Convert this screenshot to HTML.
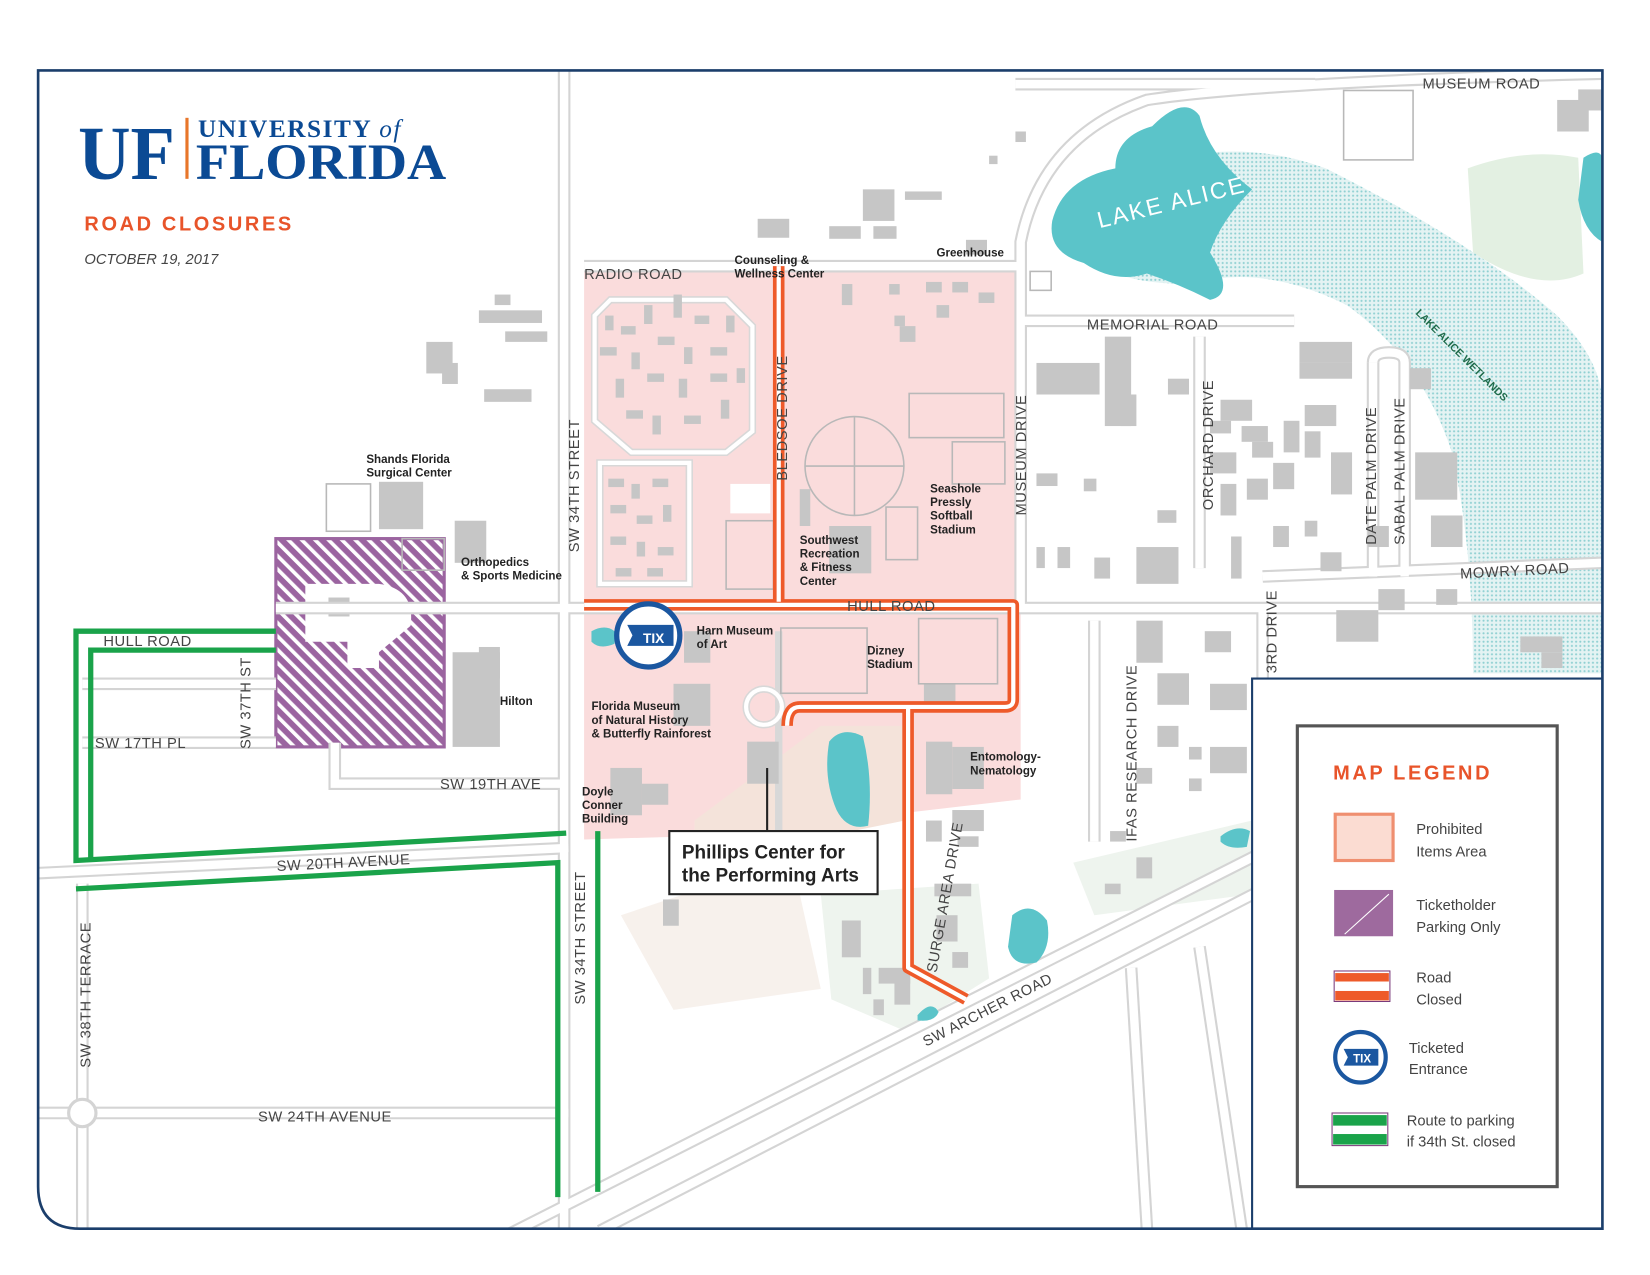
<!DOCTYPE html>
<html><head><meta charset="utf-8"><style>
html,body{margin:0;padding:0;background:#fff;}
svg{display:block;}
.lbl{font-size:14px;fill:#444;letter-spacing:0.5px;font-family:"Liberation Sans",sans-serif;}
.bl{font-size:11px;font-weight:bold;fill:#222;font-family:"Liberation Sans",sans-serif;}
.s{font-family:"Liberation Sans",sans-serif;}
.sf{font-family:"Liberation Serif",serif;}
</style></head><body>
<svg width="1650" height="1275" viewBox="0 0 1568 1212" xmlns="http://www.w3.org/2000/svg">
<defs>
<pattern id="hatch" width="9" height="9" patternUnits="userSpaceOnUse" patternTransform="rotate(-45)">
<rect width="9" height="9" fill="#9b64a0"/><rect width="3.5" height="9" fill="#fff"/>
</pattern>
<pattern id="dots" width="4" height="4" patternUnits="userSpaceOnUse">
<rect width="4" height="4" fill="#e4f3f3"/><circle cx="2" cy="2" r="1" fill="#8fd0d2"/>
</pattern>
<clipPath id="fr"><path d="M36 67 H1523 V1168 H76 Q36 1168 36 1128 Z"/></clipPath>
</defs>
<rect width="1568" height="1212" fill="#fff"/>
<g clip-path="url(#fr)">
<path d="M1395 160 Q1450 140 1500 150 L1505 260 Q1460 280 1400 240 Z" fill="#e3f0e2"/>
<path d="M1020 820 L1190 780 L1190 850 L1040 870 Z" fill="#eef4ee"/>
<path d="M590 870 L680 840 L760 850 L780 940 L640 960 Z" fill="#f7f1ec"/>
<path d="M780 850 L930 840 L940 930 L860 980 L790 950 Z" fill="#eef4ee"/>
<path d="M1400 560 L1523 560 L1523 640 L1400 640 Z" fill="#eef4ee"/>
<path d="M1040 180 Q1150 120 1260 160 Q1400 230 1480 300 Q1520 340 1523 380 L1523 640 L1400 640 Q1400 520 1380 430 Q1350 340 1280 290 Q1200 250 1130 270 Q1070 270 1040 250 Z" fill="url(#dots)"/>
<path d="M555 253 H970 V760 L840 775 L750 790 L655 795 L555 798 Z" fill="#fadcdc"/>
<path d="M660 780 L780 690 L860 690 L860 780 L760 800 L660 800 Z" fill="#f4e3da"/>
<rect x="262" y="512" width="160" height="198" fill="url(#hatch)" stroke="#9b64a0" stroke-width="3"/>
<path d="M290 555 H360 Q395 560 390 595 L360 620 V635 H330 V610 H290 Z" fill="#fff"/>
<rect x="312" y="568" width="20" height="18" fill="#c6c6c6"/>
<g fill="none" stroke-linecap="butt">
<g stroke="#d4d4d4" stroke-width="12">
<path d="M536 67 V1168"/><path d="M262 578 H1523"/><path d="M36 830 L540 806"/><path d="M36 1058 H540"/>
<path d="M78 840 V1168"/><path d="M470 1180 L1200 810"/><path d="M570 1170 L1230 830"/><path d="M555 253 H970"/>
<path d="M970 580 V230 Q990 130 1090 95 Q1200 78 1523 70"/><path d="M970 305 H1230"/><path d="M1200 548 L1523 535"/>
<path d="M78 650 H262"/><path d="M78 706 H262"/><path d="M318 706 V745 H536"/><path d="M1040 590 V800"/>
<path d="M1200 580 V830"/><path d="M1140 320 V540"/><path d="M1075 920 L1090 1168"/><path d="M1140 900 L1180 1168"/>
<path d="M965 80 H1250"/><path d="M1305 345 Q1305 335 1320 335 Q1335 335 1335 345 V548"/><path d="M1305 345 V548"/>
</g>
<g stroke="#fff" stroke-width="8">
<path d="M536 67 V1168"/><path d="M262 578 H1523"/><path d="M36 830 L540 806"/><path d="M36 1058 H540"/>
<path d="M78 840 V1168"/><path d="M470 1180 L1200 810"/><path d="M570 1170 L1230 830"/><path d="M555 253 H970"/>
<path d="M970 580 V230 Q990 130 1090 95 Q1200 78 1523 70"/><path d="M970 305 H1230"/><path d="M1200 548 L1523 535"/>
<path d="M78 650 H262"/><path d="M78 706 H262"/><path d="M318 706 V745 H536"/><path d="M1040 590 V800"/>
<path d="M1200 580 V830"/><path d="M1140 320 V540"/><path d="M1075 920 L1090 1168"/><path d="M1140 900 L1180 1168"/>
<path d="M965 80 H1250"/><path d="M1305 345 Q1305 335 1320 335 Q1335 335 1335 345 V548"/><path d="M1305 345 V548"/>
</g>
<g stroke="#d8d8d8" stroke-width="7">
<path d="M580 285 H690 L715 310 V410 L690 430 H600 L565 400 V300 Z"/>
<path d="M570 440 H655 V555 H570 Z"/>
<circle cx="726" cy="672" r="17"/>
<path d="M740 600 V790"/>
</g>
<g stroke="#fff" stroke-width="4">
<path d="M580 285 H690 L715 310 V410 L690 430 H600 L565 400 V300 Z"/>
<path d="M570 440 H655 V555 H570 Z"/>
<circle cx="726" cy="672" r="17"/>
</g>
<circle cx="78" cy="1058" r="13" stroke="#d4d4d4" stroke-width="3" fill="#fff"/>
</g>
<path d="M1000 210 Q1010 170 1060 160 Q1060 130 1095 120 Q1125 90 1140 110 Q1150 150 1190 180 Q1160 210 1150 240 Q1175 280 1150 285 Q1120 270 1090 260 Q1060 270 1030 250 Q995 240 1000 210 Z" fill="#5bc4c9"/>
<path d="M1505 150 Q1520 140 1523 150 L1523 230 Q1505 220 1500 190 Z" fill="#5bc4c9"/>
<path d="M788 705 Q800 690 820 700 Q830 740 825 785 Q805 790 795 770 Q782 740 788 705 Z" fill="#5bc4c9"/>
<path d="M962 870 Q980 855 995 875 Q1000 900 985 915 Q962 920 958 900 Z" fill="#5bc4c9"/>
<path d="M872 965 Q885 950 892 962 Q888 972 872 970 Z" fill="#5bc4c9"/>
<path d="M562 600 Q575 593 584 600 L584 612 Q570 618 562 610 Z" fill="#5bc4c9"/>
<path d="M1160 795 Q1175 783 1188 790 L1185 805 Q1168 808 1160 800 Z" fill="#5bc4c9"/>
<text class="s" x="1045" y="217" font-size="22" fill="#fff" letter-spacing="2" transform="rotate(-14 1045 217)">LAKE ALICE</text>
<text class="s" x="1345" y="298" font-size="10" font-weight="bold" fill="#1f6b4a" transform="rotate(45 1345 298)">LAKE ALICE WETLANDS</text>
<g fill="#c6c6c6">
<rect x="360" y="458" width="42" height="45"/><rect x="432" y="495" width="30" height="40"/>
<rect x="430" y="620" width="45" height="90"/><rect x="455" y="615" width="20" height="30"/>
<rect x="405" y="325" width="25" height="30"/><rect x="460" y="370" width="45" height="12"/>
<rect x="455" y="295" width="60" height="12"/><rect x="480" y="315" width="40" height="10"/>
<rect x="420" y="345" width="15" height="20"/><rect x="470" y="280" width="15" height="10"/>
<rect x="580" y="730" width="30" height="45"/><rect x="610" y="745" width="25" height="20"/>
<rect x="640" y="650" width="35" height="40"/><rect x="650" y="600" width="25" height="30"/>
<rect x="710" y="705" width="30" height="40"/><rect x="788" y="500" width="40" height="45"/>
<rect x="760" y="465" width="10" height="35"/><rect x="880" y="705" width="25" height="50"/>
<rect x="905" y="710" width="30" height="40"/><rect x="878" y="650" width="30" height="20"/>
<rect x="820" y="180" width="30" height="30"/><rect x="860" y="182" width="35" height="8"/>
<rect x="720" y="208" width="30" height="18"/><rect x="788" y="215" width="30" height="12"/>
<rect x="830" y="215" width="22" height="12"/><rect x="918" y="228" width="20" height="14"/>
<rect x="965" y="125" width="10" height="10"/><rect x="940" y="148" width="8" height="8"/>
<rect x="985" y="345" width="60" height="30"/><rect x="1050" y="320" width="25" height="85"/>
<rect x="985" y="450" width="20" height="12"/><rect x="1030" y="455" width="12" height="12"/>
<rect x="1100" y="485" width="18" height="12"/><rect x="1080" y="520" width="40" height="35"/>
<rect x="1040" y="530" width="15" height="20"/><rect x="985" y="520" width="8" height="20"/>
<rect x="1005" y="520" width="12" height="20"/><rect x="1065" y="375" width="15" height="30"/>
<rect x="1110" y="360" width="20" height="15"/><rect x="1160" y="380" width="30" height="20"/>
<rect x="1150" y="400" width="20" height="12"/><rect x="1180" y="405" width="25" height="15"/>
<rect x="1190" y="420" width="20" height="15"/><rect x="1150" y="430" width="25" height="20"/>
<rect x="1160" y="460" width="15" height="30"/><rect x="1185" y="455" width="20" height="20"/>
<rect x="1210" y="440" width="20" height="25"/><rect x="1220" y="400" width="15" height="30"/>
<rect x="1235" y="325" width="50" height="20"/><rect x="1235" y="345" width="50" height="15"/>
<rect x="1240" y="385" width="30" height="20"/><rect x="1240" y="410" width="15" height="25"/>
<rect x="1265" y="430" width="20" height="40"/><rect x="1240" y="495" width="12" height="15"/>
<rect x="1170" y="510" width="10" height="40"/><rect x="1210" y="500" width="15" height="20"/>
<rect x="1255" y="525" width="20" height="18"/><rect x="1300" y="500" width="20" height="20"/>
<rect x="1340" y="350" width="20" height="20"/><rect x="1345" y="430" width="40" height="45"/>
<rect x="1360" y="490" width="30" height="30"/><rect x="1270" y="580" width="40" height="30"/>
<rect x="1310" y="560" width="25" height="20"/><rect x="1365" y="560" width="20" height="15"/>
<rect x="1480" y="95" width="30" height="30"/><rect x="1500" y="85" width="23" height="20"/>
<rect x="1080" y="590" width="25" height="40"/><rect x="1100" y="640" width="30" height="30"/>
<rect x="1145" y="600" width="25" height="20"/><rect x="1150" y="650" width="35" height="25"/>
<rect x="1100" y="690" width="20" height="20"/><rect x="1150" y="710" width="35" height="25"/>
<rect x="1080" y="730" width="15" height="15"/><rect x="1130" y="710" width="12" height="12"/>
<rect x="1130" y="740" width="12" height="12"/><rect x="1080" y="815" width="15" height="20"/>
<rect x="1050" y="840" width="15" height="10"/><rect x="1055" y="790" width="15" height="10"/>
<rect x="905" y="770" width="30" height="20"/><rect x="910" y="795" width="20" height="10"/>
<rect x="880" y="780" width="15" height="20"/><rect x="888" y="840" width="35" height="12"/>
<rect x="800" y="875" width="18" height="35"/><rect x="890" y="870" width="20" height="25"/>
<rect x="835" y="920" width="30" height="15"/><rect x="850" y="930" width="15" height="25"/>
<rect x="820" y="920" width="8" height="25"/><rect x="905" y="905" width="15" height="15"/>
<rect x="830" y="950" width="10" height="15"/><rect x="630" y="855" width="15" height="25"/>
<rect x="1445" y="605" width="40" height="15"/><rect x="1465" y="620" width="20" height="15"/>
<rect x="575" y="300" width="8" height="14"/><rect x="590" y="310" width="14" height="8"/><rect x="612" y="290" width="8" height="18"/>
<rect x="640" y="280" width="8" height="22"/><rect x="660" y="300" width="14" height="8"/><rect x="690" y="300" width="8" height="16"/>
<rect x="570" y="330" width="16" height="8"/><rect x="600" y="335" width="8" height="16"/><rect x="625" y="320" width="16" height="8"/>
<rect x="650" y="330" width="8" height="16"/><rect x="675" y="330" width="16" height="8"/><rect x="585" y="360" width="8" height="18"/>
<rect x="615" y="355" width="16" height="8"/><rect x="645" y="360" width="8" height="18"/><rect x="675" y="355" width="16" height="8"/>
<rect x="595" y="390" width="16" height="8"/><rect x="620" y="395" width="8" height="18"/><rect x="650" y="395" width="16" height="8"/>
<rect x="685" y="380" width="8" height="18"/><rect x="700" y="350" width="8" height="14"/>
<rect x="578" y="455" width="15" height="8"/><rect x="600" y="460" width="8" height="14"/><rect x="620" y="455" width="15" height="8"/>
<rect x="580" y="480" width="15" height="8"/><rect x="605" y="490" width="15" height="8"/><rect x="630" y="480" width="8" height="16"/>
<rect x="580" y="510" width="15" height="8"/><rect x="605" y="515" width="8" height="14"/><rect x="625" y="520" width="15" height="8"/>
<rect x="585" y="540" width="15" height="8"/><rect x="615" y="540" width="15" height="8"/>
<rect x="845" y="270" width="10" height="10"/><rect x="880" y="268" width="15" height="10"/><rect x="905" y="268" width="15" height="10"/>
<rect x="930" y="278" width="15" height="10"/><rect x="850" y="300" width="10" height="10"/><rect x="800" y="270" width="10" height="20"/>
<rect x="855" y="310" width="15" height="15"/><rect x="890" y="290" width="12" height="12"/>
</g>
<g fill="none" stroke="#b8b8b8" stroke-width="1.5">
<circle cx="812" cy="443" r="47"/><path d="M812 396 V490 M765 443 H859"/>
<rect x="864" y="374" width="90" height="42"/><rect x="905" y="420" width="50" height="40"/>
<rect x="690" y="495" width="45" height="65"/><rect x="842" y="482" width="30" height="50"/>
<rect x="873" y="588" width="75" height="62"/><rect x="1277" y="86" width="66" height="66"/>
<rect x="310" y="460" width="42" height="45"/><rect x="382" y="512" width="40" height="30"/>
<rect x="742" y="597" width="82" height="62"/><rect x="979" y="258" width="20" height="18"/>
</g>
<rect x="694" y="460" width="38" height="28" fill="#fff"/>
<g fill="none" stroke-linejoin="round">
<g stroke="#ee5a2a" stroke-width="11">
<path d="M740 253 V572"/>
<path d="M555 575 H963 V665 Q963 672 955 672 H760 Q748 672 748 690"/>
<path d="M863 672 L863 920 L918 950"/>
</g>
<g stroke="#fff" stroke-width="4">
<path d="M740 253 V572"/>
<path d="M555 575 H963 V665 Q963 672 955 672 H760 Q748 672 748 690"/>
<path d="M863 672 L863 920 L918 950"/>
</g>
</g>
<g fill="none" stroke="#1aa34a" stroke-width="5">
<path d="M262 600 H72 V818 L538 792"/>
<path d="M262 618 H86 V818"/>
<path d="M72 845 L530 820 V1138"/>
<path d="M568 790 V1133"/>
</g>
<g class="lbl">
<text x="555" y="265">RADIO ROAD</text>
<text x="1033" y="313">MEMORIAL ROAD</text>
<text x="1352" y="84">MUSEUM ROAD</text>
<text x="805" y="581">HULL ROAD</text>
<text x="98" y="614">HULL ROAD</text>
<text x="90" y="711">SW 17TH PL</text>
<text x="418" y="750">SW 19TH AVE</text>
<text x="245" y="1066">SW 24TH AVENUE</text>
<text x="263" y="828" transform="rotate(-3 263 828)">SW 20TH AVENUE</text>
<text x="1388" y="550" transform="rotate(-3 1388 550)">MOWRY ROAD</text>
<text x="880" y="995" transform="rotate(-27 880 995)">SW ARCHER ROAD</text>
<text x="550" y="525" transform="rotate(-90 550 525)">SW 34TH STREET</text>
<text x="556" y="955" transform="rotate(-90 556 955)">SW 34TH STREET</text>
<text x="86" y="1015" transform="rotate(-90 86 1015)">SW 38TH TERRACE</text>
<text x="238" y="712" transform="rotate(-90 238 712)">SW 37TH ST</text>
<text x="748" y="457" transform="rotate(-90 748 457)">BLEDSOE DRIVE</text>
<text x="975" y="490" transform="rotate(-90 975 490)">MUSEUM DRIVE</text>
<text x="1153" y="485" transform="rotate(-90 1153 485)">ORCHARD DRIVE</text>
<text x="1308" y="518" transform="rotate(-90 1308 518)">DATE PALM DRIVE</text>
<text x="1335" y="518" transform="rotate(-90 1335 518)">SABAL PALM DRIVE</text>
<text x="1213" y="640" transform="rotate(-90 1213 640)">3RD DRIVE</text>
<text x="1080" y="800" transform="rotate(-90 1080 800)">IFAS RESEARCH DRIVE</text>
<text x="890" y="925" transform="rotate(-80 890 925)">SURGE AREA DRIVE</text>
</g>
<g class="bl">
<text x="348" y="440">Shands Florida</text><text x="348" y="453">Surgical Center</text>
<text x="438" y="538">Orthopedics</text><text x="438" y="551">&amp; Sports Medicine</text>
<text x="475" y="670">Hilton</text>
<text x="698" y="251">Counseling &amp;</text><text x="698" y="264">Wellness Center</text>
<text x="890" y="244">Greenhouse</text>
<text x="884" y="468">Seashole</text><text x="884" y="481">Pressly</text><text x="884" y="494">Softball</text><text x="884" y="507">Stadium</text>
<text x="760" y="517">Southwest</text><text x="760" y="530">Recreation</text><text x="760" y="543">&amp; Fitness</text><text x="760" y="556">Center</text>
<text x="662" y="603">Harn Museum</text><text x="662" y="616">of Art</text>
<text x="824" y="622">Dizney</text><text x="824" y="635">Stadium</text>
<text x="562" y="675">Florida Museum</text><text x="562" y="688">of Natural History</text><text x="562" y="701">&amp; Butterfly Rainforest</text>
<text x="922" y="723">Entomology-</text><text x="922" y="736">Nematology</text>
<text x="553" y="756">Doyle</text><text x="553" y="769">Conner</text><text x="553" y="782">Building</text>
</g>
<circle cx="616" cy="604" r="30" fill="#fff" stroke="#1b57a0" stroke-width="5"/>
<path d="M596 594 H640 V614 H596 L601 604 Z" fill="#1b57a0"/>
<text class="s" x="611" y="611" font-size="13" font-weight="bold" fill="#fff">TIX</text>
<line x1="729" y1="730" x2="729" y2="792" stroke="#222" stroke-width="2"/>
<rect x="636" y="790" width="198" height="60" fill="#fff" stroke="#222" stroke-width="2"/>
<text class="s" x="648" y="816" font-size="18" font-weight="bold" fill="#222">Phillips Center for</text>
<text class="s" x="648" y="838" font-size="18" font-weight="bold" fill="#222">the Performing Arts</text>
<rect x="1190" y="645" width="340" height="530" fill="#fff"/>
<path d="M1190 1168 V645 H1523" fill="none" stroke="#1b3e6b" stroke-width="2"/>
<rect x="1233" y="690" width="247" height="438" fill="#fff" stroke="#555" stroke-width="3"/>
<text class="s" x="1267" y="741" font-size="19" font-weight="bold" fill="#e8542a" letter-spacing="2.5">MAP LEGEND</text>
<rect x="1269" y="774" width="55" height="44" fill="#fbdcd2" stroke="#ef8f70" stroke-width="3"/>
<text class="s" x="1346" y="793" font-size="14" fill="#444">Prohibited</text><text class="s" x="1346" y="814" font-size="14" fill="#444">Items Area</text>
<rect x="1268" y="846" width="56" height="44" fill="#9e6a9e"/>
<line x1="1278" y1="888" x2="1320" y2="850" stroke="#fff" stroke-width="1"/>
<text class="s" x="1346" y="865" font-size="14" fill="#444">Ticketholder</text><text class="s" x="1346" y="886" font-size="14" fill="#444">Parking Only</text>
<rect x="1268" y="923" width="53" height="29" fill="#fff" stroke="#7a3a7a" stroke-width="1"/>
<rect x="1269" y="925" width="51" height="8" fill="#ee5a2a"/><rect x="1269" y="942" width="51" height="9" fill="#ee5a2a"/>
<text class="s" x="1346" y="934" font-size="14" fill="#444">Road</text><text class="s" x="1346" y="955" font-size="14" fill="#444">Closed</text>
<circle cx="1293" cy="1005" r="24" fill="#fff" stroke="#1b57a0" stroke-width="4"/>
<path d="M1277 997 H1310 V1013 H1277 L1281 1005 Z" fill="#1b57a0"/>
<text class="s" x="1286" y="1010" font-size="11" font-weight="bold" fill="#fff">TIX</text>
<text class="s" x="1339" y="1001" font-size="14" fill="#444">Ticketed</text><text class="s" x="1339" y="1021" font-size="14" fill="#444">Entrance</text>
<rect x="1266" y="1058" width="53" height="31" fill="#fff" stroke="#7a3a7a" stroke-width="1"/>
<rect x="1267" y="1060" width="51" height="10" fill="#1aa34a"/><rect x="1267" y="1078" width="51" height="10" fill="#1aa34a"/>
<text class="s" x="1337" y="1070" font-size="14" fill="#444">Route to parking</text><text class="s" x="1337" y="1090" font-size="14" fill="#444">if 34th St. closed</text>
<text class="sf" x="74" y="170" font-size="72" font-weight="bold" fill="#0b4a94" textLength="92" lengthAdjust="spacingAndGlyphs">UF</text>
<rect x="176" y="112" width="3" height="58" fill="#e8762a"/>
<text class="sf" x="188" y="130" font-size="24" font-weight="bold" fill="#0b4a94" letter-spacing="1.5">UNIVERSITY <tspan font-style="italic" font-weight="normal">of</tspan></text>
<text class="sf" x="186" y="170" font-size="48" font-weight="bold" fill="#0b4a94" textLength="238" lengthAdjust="spacingAndGlyphs">FLORIDA</text>
<text class="s" x="80" y="219" font-size="19" font-weight="bold" fill="#e8542a" letter-spacing="2.5">ROAD CLOSURES</text>
<text class="s" x="80" y="251" font-size="14" font-style="italic" fill="#444">OCTOBER 19, 2017</text>
</g>
<path d="M36 67 H1523 V1168 H76 Q36 1168 36 1128 Z" fill="none" stroke="#1b3e6b" stroke-width="2.5"/>
</svg>
</body></html>
